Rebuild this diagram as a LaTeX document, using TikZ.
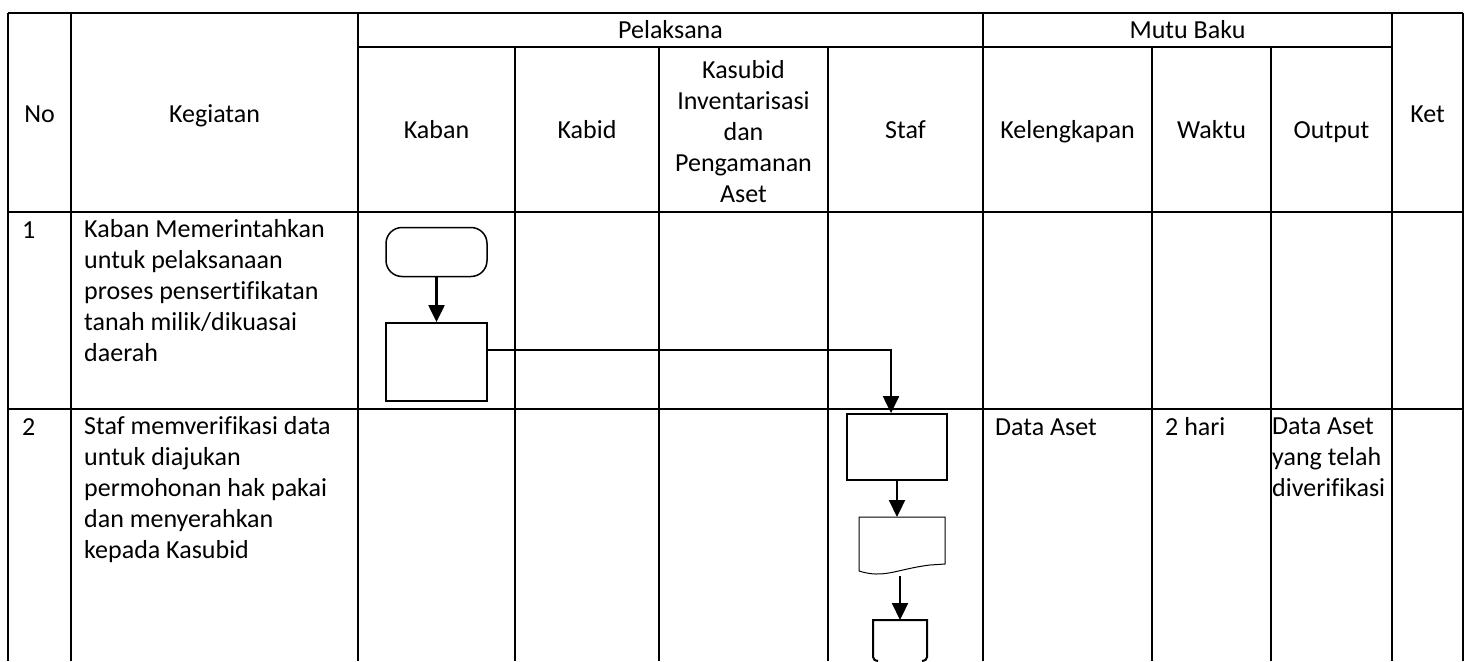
\documentclass[tikz,border=0pt]{standalone}
\usepackage{fontspec}
\setmainfont{Carlito}[Ligatures=NoCommon]
\usetikzlibrary{arrows.meta,positioning,calc}

\begin{document}
\begin{tikzpicture}[
  x=1pt, y=-1pt,
  font=\fontsize{26}{31}\selectfont,
  grid/.style={draw=black, line width=2pt},
  hd/.style={anchor=base, inner sep=0pt},
  cell/.style={anchor=base west, inner sep=0pt},
  txt/.style={anchor=north west, align=left, inner sep=0pt},
  mulaibox/.style={draw=black, line width=1.5pt, rounded corners=16pt, minimum width=101pt,
                   minimum height=49pt, inner sep=0pt},
  proses/.style={draw=black, line width=1.8pt, minimum width=101pt, minimum height=78pt, inner sep=0pt},
  slot/.style={inner sep=0pt, outer sep=0pt},
  flow/.style={draw=black, line width=2.2pt, -{Triangle[length=17pt,width=16pt]}}
]
\useasboundingbox (0,0) rectangle (1471,661);
\draw[grid] (8,13) -- (1463,13);
\draw[grid] (358,47) -- (1392,47);
\draw[grid] (8,212) -- (1463,212);
\draw[grid] (8,409) -- (1463,409);
\draw[grid] (8,13) -- (8,661);
\draw[grid] (71,13) -- (71,661);
\draw[grid] (358,13) -- (358,661);
\draw[grid] (515,47) -- (515,661);
\draw[grid] (659,47) -- (659,661);
\draw[grid] (828,47) -- (828,661);
\draw[grid] (983,13) -- (983,661);
\draw[grid] (1152,47) -- (1152,661);
\draw[grid] (1271,47) -- (1271,661);
\draw[grid] (1392,13) -- (1392,661);
\draw[grid] (1463,13) -- (1463,661);
\node[hd] (no) at (39.5,122) {No};
\node[hd] (kegiatan) at (214.5,122) {Kegiatan};
\node[hd] (pelaksana) at (670.5,38) {Pelaksana};
\node[hd] (mutu) at (1187.5,38) {Mutu Baku};
\node[hd] (ket) at (1427.5,122) {Ket};
\node[hd] (kaban) at (436.5,138) {Kaban};
\node[hd] (kabid) at (587,138) {Kabid};
\node[anchor=north, align=center, inner sep=0pt] (kasubid) at (743.5,60)
  {Kasubid\\Inventarisasi\\dan\\Pengamanan\\Aset};
\node[hd] (staf) at (905.5,138) {Staf};
\node[hd] (kelengkapan) at (1067.5,138) {Kelengkapan};
\node[hd] (waktu) at (1211.5,138) {Waktu};
\node[hd] (output) at (1331.5,138) {Output};
\node[cell] (no1) at (22,238) {1};
\node[txt] (keg1) at (84,219.5) {Kaban Memerintahkan\\untuk pelaksanaan\\proses pensertifikatan\\tanah milik/dikuasai\\daerah};
\node[cell] (no2) at (22,435) {2};
\node[txt] (keg2) at (84,416.5) {Staf memverifikasi data\\untuk diajukan\\permohonan hak pakai\\dan menyerahkan\\kepada Kasubid};
\node[cell] (kel2) at (995,435) {Data Aset};
\node[cell] (wak2) at (1165,435) {2 hari};
\node[txt] (out2) at (1272,417.5) {Data Aset\\yang telah\\diverifikasi};
\node[mulaibox] (mulai) at (436.5,252) {};
\node[proses] (perintah) at (436.5,362) {};
\node[proses, minimum width=100pt, minimum height=66pt] (verif) at (897,447) {};
\node[slot, minimum width=86pt, minimum height=56pt] (dokumen) at (902,545) {};
\node[slot, minimum width=54pt, minimum height=41pt] (konektor) at (900,640.5) {};
\draw[line width=1pt] ($(dokumen.south west)+(0,-2)$) -- (dokumen.north west) -- (dokumen.north east)
  -- ($(dokumen.south east)+(0,-9)$) -- ($(dokumen.south east)+(-15,-8)$)
  .. controls ($(dokumen.south)+(-5,-4)$) and ($(dokumen.south west)+(25,6)$) .. ($(dokumen.south west)+(0,-2)$);
\draw[line width=2pt] ($(konektor.south west)+(5,0)$) .. controls ($(konektor.south west)+(1,-1)$) .. ($(konektor.south west)+(0,-4)$)
  -- (konektor.north west) -- (konektor.north east) -- ($(konektor.south east)+(0,-4)$)
  .. controls ($(konektor.south east)+(-1,-1)$) .. ($(konektor.south east)+(-5,0)$);
\draw[flow] (mulai) -- (perintah);
\draw[flow] ($(perintah.north east)!0.35!(perintah.south east)$) -| ($(verif.north)+(-6,0)$);
\draw[flow] (verif.south) -- (verif.south |- dokumen.north);
\draw[flow] ($(konektor.north |- dokumen.south)+(0,3)$) -- (konektor.north);
\end{tikzpicture}
\end{document}
